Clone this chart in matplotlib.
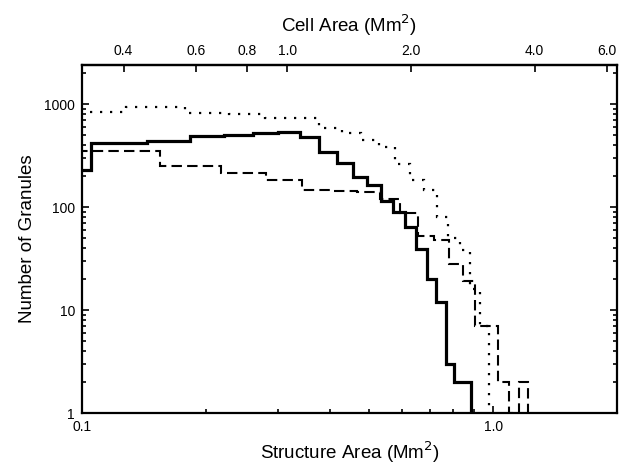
import numpy as np
import matplotlib
matplotlib.use("Agg")
import matplotlib.pyplot as plt
from matplotlib.ticker import FixedLocator, NullFormatter, FixedFormatter, NullLocator

plt.rcParams['font.family'] = ['Liberation Sans', 'DejaVu Sans']

# solid histogram (bin edges in Mm^2, counts)
solid_edges = [0.066, 0.105, 0.144, 0.183, 0.222, 0.261, 0.300, 0.339, 0.377,
               0.416, 0.455, 0.494, 0.533, 0.572, 0.611, 0.650, 0.689, 0.727,
               0.766, 0.805, 0.844, 0.883]
solid_counts = [228, 418, 437, 493, 505, 522, 542, 478, 343, 270, 194, 163,
                115, 89, 64, 39, 20, 12, 3, 2, 2]

# dashed histogram
dashed_edges = [0.0925, 0.155, 0.2175, 0.280, 0.3425, 0.405, 0.4675, 0.530,
                0.5925, 0.655, 0.7175, 0.780, 0.8425, 0.905, 0.9675, 1.030,
                1.0925, 1.155, 1.2175]
dashed_counts = [347, 249, 214, 184, 145, 143, 140, 120, 88, 52, 48, 28, 19,
                 7, 7, 2, 1, 2]

# dotted histogram
dotted_edges = [0.078, 0.128, 0.178, 0.228, 0.278, 0.328, 0.378, 0.428, 0.478,
                0.528, 0.578, 0.628, 0.678, 0.728, 0.778, 0.828, 0.878, 0.928,
                0.978]
dotted_counts = [847, 931, 822, 805, 740, 730, 583, 527, 451, 383, 265, 182,
                 146, 80, 50, 38, 16, 7]

cell_factor = 3.17  # cell area / structure area
top_ticks = [0.4, 0.6, 0.8, 1.0, 2.0, 4.0, 6.0]

fig = plt.figure(figsize=(6.25, 4.69), dpi=100)
ax = fig.add_axes([82/625, 1-413/469, (617-82)/625, (413-65)/469])

base = 1e-3
ax.stairs(dotted_counts, dotted_edges, baseline=base, color='black', lw=1.6,
          linestyle=(0, (1, 3.5)))
ax.stairs(dashed_counts, dashed_edges, baseline=base, color='black', lw=1.5,
          linestyle=(0, (5, 2.5)))
ax.stairs(solid_counts, solid_edges, baseline=base, color='black', lw=2.3)

ax.set_xscale('log')
ax.set_yscale('log')
ax.set_xlim(0.1, 2.0)
ax.set_ylim(1, 2400)

for s in ax.spines.values():
    s.set_linewidth(1.6)

ax.xaxis.set_major_locator(FixedLocator([0.1, 1.0]))
ax.xaxis.set_major_formatter(FixedFormatter(['0.1', '1.0']))
ax.xaxis.set_minor_locator(FixedLocator([0.2, 0.3, 0.4, 0.5, 0.6, 0.7, 0.8, 0.9, 2.0]))
ax.xaxis.set_minor_formatter(NullFormatter())
ax.yaxis.set_major_locator(FixedLocator([1, 10, 100, 1000]))
ax.yaxis.set_major_formatter(FixedFormatter(['1', '10', '100', '1000']))
ax.yaxis.set_minor_locator(FixedLocator([m * d for d in [1, 10, 100, 1000] for m in range(2, 10)]))
ax.yaxis.set_minor_formatter(NullFormatter())

ax.tick_params(which='both', direction='in', top=False, right=True, width=1.2)
ax.tick_params(which='major', length=5, pad=5, labelsize=10)
ax.tick_params(which='minor', length=3)

ax.set_xlabel('Structure Area (Mm$^2$)', fontsize=13.5, labelpad=4)
ax.set_ylabel('Number of Granules', fontsize=13.5, labelpad=6)

top = ax.secondary_xaxis('top', functions=(lambda x: x * cell_factor,
                                            lambda x: x / cell_factor))
top.xaxis.set_major_locator(FixedLocator(top_ticks))
top.xaxis.set_major_formatter(FixedFormatter(['%.1f' % t for t in top_ticks]))
top.xaxis.set_minor_locator(NullLocator())
top.tick_params(direction='in', length=5, width=1.2, pad=5, labelsize=10)
top.spines['top'].set_linewidth(1.6)
top.set_xlabel('Cell Area (Mm$^2$)', fontsize=13.5, labelpad=9)

fig.savefig('out.png', dpi=100)
